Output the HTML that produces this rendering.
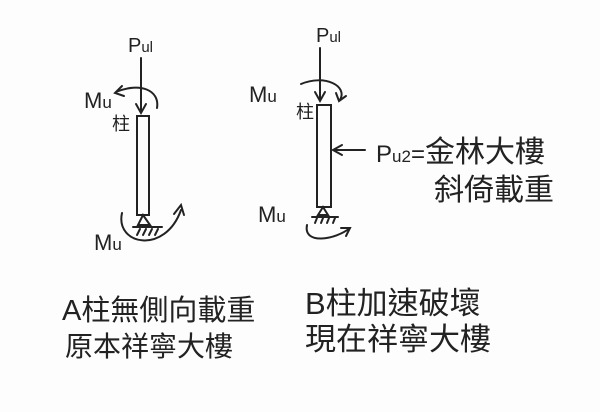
<!DOCTYPE html>
<html><head><meta charset="utf-8"><style>
html,body{margin:0;padding:0;background:#fff}
svg{display:block}
text{font-family:"Liberation Sans","Noto Sans CJK TC",sans-serif;fill:#222}
</style></head><body>
<svg width="600" height="412" viewBox="0 0 600 412" xmlns="http://www.w3.org/2000/svg">
<rect width="600" height="412" fill="#fdfdfd"/>
<g stroke="#222" stroke-width="2" fill="none" stroke-linecap="round">
<!-- Left column -->
<rect x="137" y="116" width="12" height="99"/>
<line x1="141" y1="58" x2="141" y2="112"/>
<path d="M136,104 L141,113 L146,104"/>
<path d="M157,108 C160,90 140,82 116,92"/>
<path d="M122,86 L115,93 L124,96"/>
<path d="M143,215 L138,225 L150,225 Z"/>
<line x1="133" y1="227" x2="162" y2="227"/>
<path d="M137,235 l3,-6 M143,235 l3,-6 M149,235 l3,-6 M155,235 l3,-6"/>
<path d="M122,213 C115,245 165,255 181,210"/>
<path d="M174,214 L181,205 L184,215"/>
<!-- Right column -->
<rect x="317" y="105" width="14" height="102"/>
<line x1="320" y1="48" x2="320" y2="100"/>
<path d="M315,92 L320,101 L325,92"/>
<path d="M301,84 C325,74 348,86 340,100"/>
<path d="M336,93 L339,101 L346,96"/>
<line x1="365" y1="150" x2="334" y2="150"/>
<path d="M342,145 L333,150 L342,155"/>
<path d="M323,207 L318,215 L328,215 Z"/>
<line x1="312" y1="217" x2="338" y2="217"/>
<path d="M315,223 l2,-5 M321,223 l2,-5 M327,223 l2,-5 M333,223 l2,-5"/>
<path d="M307,225 C303,245 335,240 350,228"/>
<path d="M341,228 L350,228 L346,236"/>
</g>
<text x="128" y="52" font-size="20">P<tspan font-size="15">ul</tspan></text>
<text x="84" y="108" font-size="22">M<tspan font-size="17">u</tspan></text>
<text x="112" y="130" font-size="18">柱</text>
<text x="94" y="250" font-size="22">M<tspan font-size="17">u</tspan></text>
<text x="316" y="42" font-size="20">P<tspan font-size="15">ul</tspan></text>
<text x="249" y="102" font-size="22">M<tspan font-size="17">u</tspan></text>
<text x="296" y="118" font-size="18">柱</text>
<text x="258" y="222" font-size="22">M<tspan font-size="17">u</tspan></text>
<text x="376" y="162" font-size="24">P<tspan font-size="17">u2</tspan>=<tspan font-size="30">金林大樓</tspan></text>
<text x="434" y="200" font-size="30">斜倚載重</text>
<text x="62" y="320" font-size="29">A柱無側向載重</text>
<text x="65" y="356" font-size="28">原本祥寧大樓</text>
<text x="305" y="314" font-size="31">B柱加速破壞</text>
<text x="305" y="350" font-size="31">現在祥寧大樓</text>
</svg>
</body></html>
